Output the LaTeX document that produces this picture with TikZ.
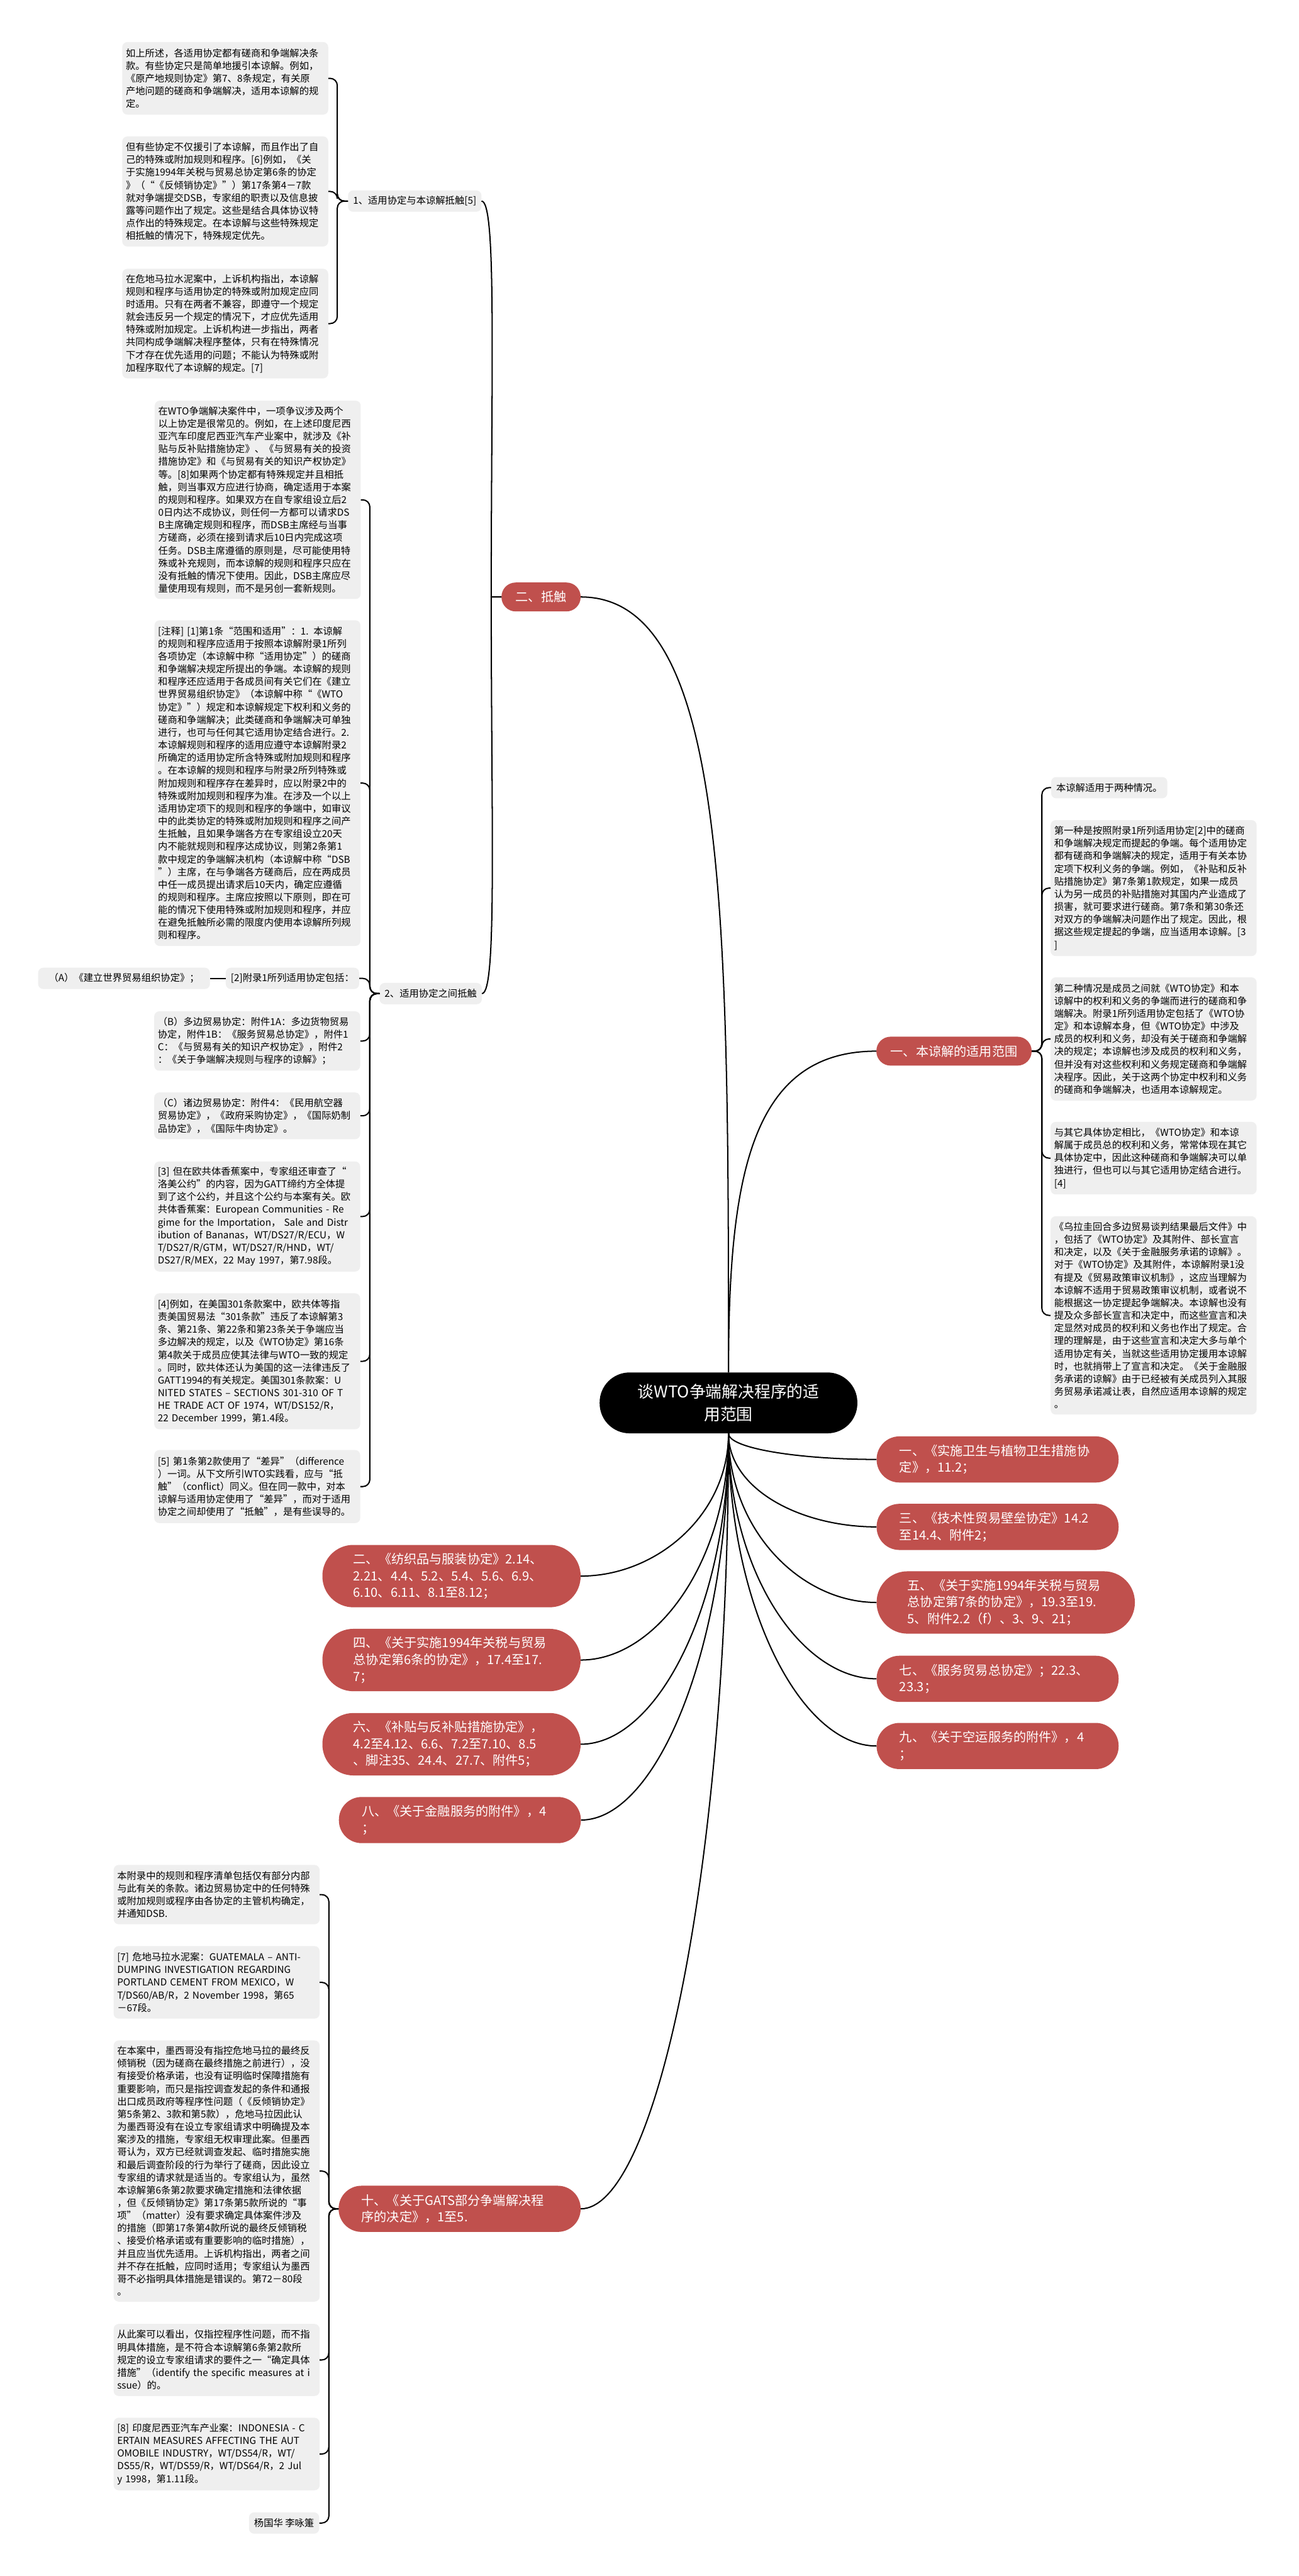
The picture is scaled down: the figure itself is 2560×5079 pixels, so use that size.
\documentclass[tikz,border=0pt]{standalone}
\usepackage{fontspec}
\newfontfamily\cjk{Noto Sans CJK SC}
\definecolor{cred}{HTML}{C0504D}
\definecolor{cgrey}{HTML}{EFEFEF}
\newcommand{\nfont}{\cjk\fontsize{19}{25}\selectfont}
\newcommand{\rfont}{\cjk\fontsize{25}{33}\selectfont}

\begin{document}
\begin{tikzpicture}[x=1pt, y=-1pt, font=\cjk,
  note/.style={fill=cgrey, rounded corners=10pt, align=left, text width=392pt,
    inner xsep=7pt, inner ysep=4pt, font=\nfont},
  tag/.style={fill=cgrey, rounded corners=10pt, inner xsep=10pt, inner ysep=0pt,
    minimum height=42pt, font=\nfont},
  redone/.style={fill=cred, text=white, rounded corners=28pt, inner xsep=28pt,
    inner ysep=0pt, minimum height=57pt, font=\rfont},
  redtwo/.style={fill=cred, text=white, rounded corners=45pt, inner xsep=45pt,
    inner ysep=0pt, minimum height=91pt, align=left, text width=387pt, font=\rfont},
  redthree/.style={redtwo, rounded corners=61pt, inner xsep=61pt, minimum height=123pt},
  root/.style={fill=black, text=white, rounded corners=59pt, minimum width=508pt,
    minimum height=120pt, align=center, font=\cjk\fontsize{32}{45}\selectfont},
  link/.style={line width=2.5pt},
  brace/.style={link, rounded corners=14pt}]

\path[use as bounding box, fill=white] (0,0) rectangle (2560,5079);

% centre
\node[root] (root) at (1436,2766) {谈WTO争端解决程序的适\\用范围};

% upper left branch
\node[redone] (dis) at (1066.5,1177) {二、抵触};
\node[tag] (c1) at (817.5,396.5) {1、适用协定与本谅解抵触[5]};
\node[tag] (c2) at (849,1959) {2、适用协定之间抵触};

\node[note, minimum height=143pt] (n1) at (444,154.5)
  {如上所述，各适用协定都有磋商和争端解决条\\款。有些协定只是简单地援引本谅解。例如，\\
   《原产地规则协定》第7、8条规定，有关原\\产地问题的磋商和争端解决，适用本谅解的规\\定。};
\node[note, minimum height=217pt] (n2) at (444,377.5)
  {但有些协定不仅援引了本谅解，而且作出了自\\己的特殊或附加规则和程序。[6]例如，《关\\
   于实施1994年关税与贸易总协定第6条的协定\\》（“《反倾销协定》”）第17条第4－7款\\
   就对争端提交DSB，专家组的职责以及信息披\\露等问题作出了规定。这些是结合具体协议特\\
   点作出的特殊规定。在本谅解与这些特殊规定\\相抵触的情况下，特殊规定优先。};
\node[note, minimum height=216pt] (n3) at (444,638)
  {在危地马拉水泥案中，上诉机构指出，本谅解\\规则和程序与适用协定的特殊或附加规定应同\\
   时适用。只有在两者不兼容，即遵守一个规定\\就会违反另一个规定的情况下，才应优先适用\\
   特殊或附加规定。上诉机构进一步指出，两者\\共同构成争端解决程序整体，只有在特殊情况\\
   下才存在优先适用的问题；不能认为特殊或附\\加程序取代了本谅解的规定。[7]};

\node[note, minimum height=391pt] (m1) at (508,985.5)
  {在WTO争端解决案件中，一项争议涉及两个\\以上协定是很常见的。例如，在上述印度尼西\\
   亚汽车印度尼西亚汽车产业案中，就涉及《补\\贴与反补贴措施协定》、《与贸易有关的投资\\
   措施协定》和《与贸易有关的知识产权协定》\\等。[8]如果两个协定都有特殊规定并且相抵\\
   触，则当事双方应进行协商，确定适用于本案\\的规则和程序。如果双方在自专家组设立后2\\
   0日内达不成协议，则任何一方都可以请求DS\\B主席确定规则和程序，而DSB主席经与当事\\
   方磋商，必须在接到请求后10日内完成这项\\任务。DSB主席遵循的原则是，尽可能使用特\\
   殊或补充规则，而本谅解的规则和程序只应在\\没有抵触的情况下使用。因此，DSB主席应尽\\
   量使用现有规则，而不是另创一套新规则。};
\node[note, minimum height=642pt] (m2) at (507.5,1544)
  {[注释] [1]第1条“范围和适用”：1. 本谅解\\的规则和程序应适用于按照本谅解附录1所列\\
   各项协定（本谅解中称“适用协定”）的磋商\\和争端解决规定所提出的争端。本谅解的规则\\
   和程序还应适用于各成员间有关它们在《建立\\世界贸易组织协定》（本谅解中称“《WTO\\
   协定》”）规定和本谅解规定下权利和义务的\\磋商和争端解决；此类磋商和争端解决可单独\\
   进行，也可与任何其它适用协定结合进行。2.\\本谅解规则和程序的适用应遵守本谅解附录2\\
   所确定的适用协定所含特殊或附加规则和程序\\。在本谅解的规则和程序与附录2所列特殊或\\
   附加规则和程序存在差异时，应以附录2中的\\特殊或附加规则和程序为准。在涉及一个以上\\
   适用协定项下的规则和程序的争端中，如审议\\中的此类协定的特殊或附加规则和程序之间产\\
   生抵触，且如果争端各方在专家组设立20天\\内不能就规则和程序达成协议，则第2条第1\\
   款中规定的争端解决机构（本谅解中称“DSB\\”）主席，在与争端各方磋商后，应在两成员\\
   中任一成员提出请求后10天内，确定应遵循\\的规则和程序。主席应按照以下原则，即在可\\
   能的情况下使用特殊或附加规则和程序，并应\\在避免抵触所必需的限度内使用本谅解所列规\\
   则和程序。};
\node[tag] (m3) at (576.5,1929) {[2]附录1所列适用协定包括：};
\node[tag, inner xsep=21pt] (m3a) at (244.5,1929) {（A）《建立世界贸易组织协定》；};
\node[note, minimum height=117pt] (m4) at (507,2052.5)
  {（B）多边贸易协定：附件1A：多边货物贸易\\协定，附件1B：《服务贸易总协定》，附件1\\
   C：《与贸易有关的知识产权协定》，附件2\\：《关于争端解决规则与程序的谅解》；};
\node[note, minimum height=92pt] (m5) at (507,2200)
  {（C）诸边贸易协定：附件4：《民用航空器\\贸易协定》，《政府采购协定》，《国际奶制\\
   品协定》，《国际牛肉协定》。};
\node[note, minimum height=217pt] (m6) at (507,2398.5)
  {[3] 但在欧共体香蕉案中，专家组还审查了“\\洛美公约”的内容，因为GATT缔约方全体提\\
   到了这个公约，并且这个公约与本案有关。欧\\共体香蕉案：European Communities - Re\\
   gime for the Importation， Sale and Distr\\ibution of Bananas，WT/DS27/R/ECU，W\\
   T/DS27/R/GTM，WT/DS27/R/HND，WT/\\DS27/R/MEX，22 May 1997，第7.98段。};
\node[note, minimum height=268pt] (m7) at (507,2684)
  {[4]例如，在美国301条款案中，欧共体等指\\责美国贸易法“301条款”违反了本谅解第3\\
   条、第21条、第22条和第23条关于争端应当\\多边解决的规定，以及《WTO协定》第16条\\
   第4款关于成员应使其法律与WTO一致的规定\\。同时，欧共体还认为美国的这一法律违反了\\
   GATT1994的有关规定。美国301条款案：U\\NITED STATES – SECTIONS 301-310 OF T\\
   HE TRADE ACT OF 1974，WT/DS152/R，\\22 December 1999，第1.4段。};
\node[note, minimum height=144pt] (m8) at (507,2931)
  {[5] 第1条第2款使用了“差异”（difference\\）一词。从下文所引WTO实践看，应与“抵\\
   触”（conflict）同义。但在同一款中，对本\\谅解与适用协定使用了“差异”，而对于适用\\
   协定之间却使用了“抵触”，是有些误导的。};

% upper right branch
\node[redone] (scope) at (1880.5,2072.5) {一、本谅解的适用范围};
\node[tag] (r1) at (2186.5,1553) {本谅解适用于两种情况。};
\node[note, minimum height=268pt] (r2) at (2274,1751)
  {第一种是按照附录1所列适用协定[2]中的磋商\\和争端解决规定而提起的争端。每个适用协定\\
   都有磋商和争端解决的规定，适用于有关本协\\定项下权利义务的争端。例如，《补贴和反补\\
   贴措施协定》第7条第1款规定，如果一成员\\认为另一成员的补贴措施对其国内产业造成了\\
   损害，就可要求进行磋商。第7条和第30条还\\对双方的争端解决问题作出了规定。因此，根\\
   据这些规定提起的争端，应当适用本谅解。[3\\]};
\node[note, minimum height=243pt] (r3) at (2274,2048.5)
  {第二种情况是成员之间就《WTO协定》和本\\谅解中的权利和义务的争端而进行的磋商和争\\
   端解决。附录1所列适用协定包括了《WTO协\\定》和本谅解本身，但《WTO协定》中涉及\\
   成员的权利和义务，却没有关于磋商和争端解\\决的规定；本谅解也涉及成员的权利和义务，\\
   但并没有对这些权利和义务规定磋商和争端解\\决程序。因此，关于这两个协定中权利和义务\\
   的磋商和争端解决，也适用本谅解规定。};
\node[note, minimum height=143pt] (r4) at (2274,2283.5)
  {与其它具体协定相比，《WTO协定》和本谅\\解属于成员总的权利和义务，常常体现在其它\\
   具体协定中，因此这种磋商和争端解决可以单\\独进行，但也可以与其它适用协定结合进行。\\{}[4]};
\node[note, minimum height=391pt] (r5) at (2274,2593.5)
  {《乌拉圭回合多边贸易谈判结果最后文件》中\\，包括了《WTO协定》及其附件、部长宣言\\
   和决定，以及《关于金融服务承诺的谅解》。\\对于《WTO协定》及其附件，本谅解附录1没\\
   有提及《贸易政策审议机制》，这应当理解为\\本谅解不适用于贸易政策审议机制，或者说不\\
   能根据这一协定提起争端解决。本谅解也没有\\提及众多部长宣言和决定中，而这些宣言和决\\
   定显然对成员的权利和义务也作出了规定。合\\理的理解是，由于这些宣言和决定大多与单个\\
   适用协定有关，当就这些适用协定援用本谅解\\时，也就捎带上了宣言和决定。《关于金融服\\
   务承诺的谅解》由于已经被有关成员列入其服\\务贸易承诺减让表，自然应适用本谅解的规定\\。};

% lower branches
\node[redtwo] (sps) at (1966.5,2877.5) {一、《实施卫生与植物卫生措施协\\定》，11.2；};
\node[redtwo] (tbt) at (1966.5,3010.5) {三、《技术性贸易壁垒协定》14.2\\至14.4、附件2；};
\node[redthree] (adpa) at (1982.5,3159.5)
  {五、《关于实施1994年关税与贸易\\总协定第7条的协定》，19.3至19.\\5、附件2.2（f）、3、9、21；};
\node[redtwo] (gats) at (1966.5,3310) {七、《服务贸易总协定》；22.3、\\23.3；};
\node[redtwo] (air) at (1966.5,3442.5) {九、《关于空运服务的附件》，4\\；};

\node[redthree] (atc) at (890,3107.5)
  {二、《纺织品与服装协定》2.14、\\2.21、4.4、5.2、5.4、5.6、6.9、\\6.10、6.11、8.1至8.12；};
\node[redthree] (adpb) at (890,3273)
  {四、《关于实施1994年关税与贸易\\总协定第6条的协定》，17.4至17.\\7；};
\node[redthree] (scm) at (890,3439)
  {六、《补贴与反补贴措施协定》，\\4.2至4.12、6.6、7.2至7.10、8.5\\、脚注35、24.4、27.7、附件5；};
\node[redtwo] (fin) at (906.5,3588.5) {八、《关于金融服务的附件》，4\\；};
\node[redtwo] (dec) at (906,4355) {十、《关于GATS部分争端解决程\\序的决定》，1至5.};

\node[note, minimum height=117pt] (b1) at (427,3735.5)
  {本附录中的规则和程序清单包括仅有部分内部\\与此有关的条款。诸边贸易协定中的任何特殊\\
   或附加规则或程序由各协定的主管机构确定，\\并通知DSB.};
\node[note, minimum height=143pt] (b2) at (427,3908.5)
  {[7] 危地马拉水泥案：GUATEMALA – ANTI-\\DUMPING INVESTIGATION REGARDING\\
   PORTLAND CEMENT FROM MEXICO，W\\T/DS60/AB/R，2 November 1998，第65\\－67段。};
\node[note, minimum height=515pt] (b3) at (427,4280.5)
  {在本案中，墨西哥没有指控危地马拉的最终反\\倾销税（因为磋商在最终措施之前进行），没\\
   有接受价格承诺，也没有证明临时保障措施有\\重要影响，而只是指控调查发起的条件和通报\\
   出口成员政府等程序性问题（《反倾销协定》\\第5条第2、3款和第5款），危地马拉因此认\\
   为墨西哥没有在设立专家组请求中明确提及本\\案涉及的措施，专家组无权审理此案。但墨西\\
   哥认为，双方已经就调查发起、临时措施实施\\和最后调查阶段的行为举行了磋商，因此设立\\
   专家组的请求就是适当的。专家组认为，虽然\\本谅解第6条第2款要求确定措施和法律依据\\
   ，但《反倾销协定》第17条第5款所说的“事\\项”（matter）没有要求确定具体案件涉及\\
   的措施（即第17条第4款所说的最终反倾销税\\、接受价格承诺或有重要影响的临时措施），\\
   并且应当优先适用。上诉机构指出，两者之间\\并不存在抵触，应同时适用；专家组认为墨西\\
   哥不必指明具体措施是错误的。第72－80段\\。};
\node[note, minimum height=142pt] (b4) at (427,4653)
  {从此案可以看出，仅指控程序性问题，而不指\\明具体措施，是不符合本谅解第6条第2款所\\
   规定的设立专家组请求的要件之一“确定具体\\措施”（identify the specific measures at i\\ssue）的。};
\node[note, minimum height=143pt] (b5) at (427,4838.5)
  {[8] 印度尼西亚汽车产业案：INDONESIA - C\\ERTAIN MEASURES AFFECTING THE AUT\\
   OMOBILE INDUSTRY，WT/DS54/R，WT/\\DS55/R，WT/DS59/R，WT/DS64/R，2 Jul\\y 1998，第1.11段。};
\node[tag] (b6) at (560,4974.5) {杨国华 李咏箑};

% connectors from the centre
\draw[link] (root.north) .. controls +(0,-900) and +(290,0) .. (dis.east);
\draw[link] (root.north) .. controls +(0,-380) and +(-250,0) .. (scope.west);
\foreach \n/\d in {sps/30,tbt/110,adpa/190,gats/270,air/340}
  \draw[link] (root.south) .. controls +(0,\d) and +(-150,0) .. (\n.west);
\foreach \n/\d in {atc/160,adpb/250,scm/340,fin/420,dec/850}
  \draw[link] (root.south) .. controls +(0,\d) and +(150,0) .. (\n.east);

% brackets
\draw[link] (dis.west) -- ++(-20,0) .. controls +(0,-450) and +(30,0) .. (c1.east);
\draw[link] (dis.west) -- ++(-20,0) .. controls +(0,450) and +(30,0) .. (c2.east);
\foreach \n in {n1,n2,n3}
  \draw[brace] (c1.west) -- ++(-21,0) |- (\n.east);
\foreach \n in {m1,m2,m3,m4,m5,m6,m7,m8}
  \draw[brace] (c2.west) -- ++(-19,0) |- (\n.east);
\draw[link] (m3.west) -- (m3a.east);
\foreach \n in {r1,r2,r3,r4,r5}
  \draw[brace] (scope.east) -- ++(20,0) |- (\n.west);
\foreach \n in {b1,b2,b3,b4,b5,b6}
  \draw[brace] (dec.west) -- ++(-19,0) |- (\n.east);
\end{tikzpicture}
\end{document}
